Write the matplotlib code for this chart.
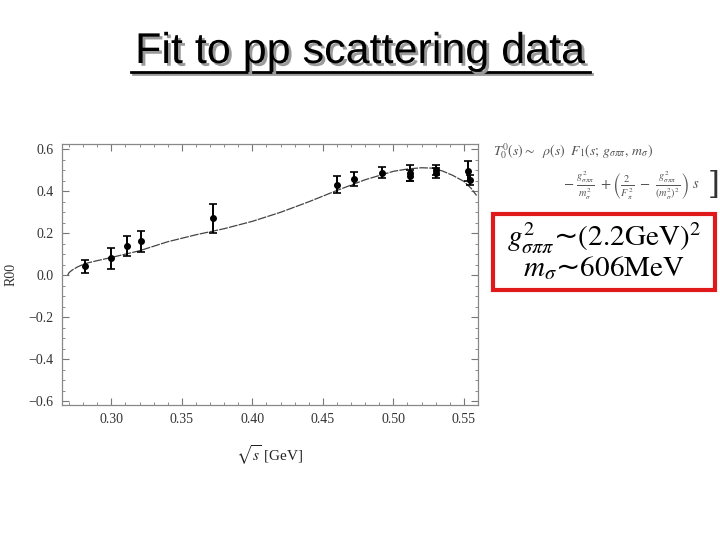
import numpy as np
import matplotlib
matplotlib.use("Agg")
import matplotlib.pyplot as plt
import matplotlib.patheffects as pe
from matplotlib.lines import Line2D
from matplotlib.patches import Rectangle
from matplotlib.ticker import MultipleLocator

plt.rcParams['mathtext.fontset'] = 'stix'

# data points (sqrt(s), R00, error)
x_data = [0.281, 0.300, 0.311, 0.321, 0.372, 0.460, 0.472, 0.492,
          0.512, 0.512, 0.530, 0.530, 0.553, 0.554]
y_data = [0.043, 0.082, 0.141, 0.163, 0.271, 0.432, 0.459, 0.489,
          0.489, 0.475, 0.502, 0.486, 0.495, 0.454]
y_err = [0.030, 0.050, 0.047, 0.050, 0.070, 0.040, 0.035, 0.026,
         0.038, 0.027, 0.025, 0.024, 0.048, 0.024]

# fit curve
x_fit = [0.2690, 0.2700, 0.2720, 0.2760, 0.2813, 0.2900, 0.3000, 0.3200,
         0.3400, 0.3600, 0.3800, 0.4000, 0.4200, 0.4400, 0.4600, 0.4800,
         0.5000, 0.5100, 0.5200, 0.5280, 0.5350, 0.5420, 0.5500, 0.5550,
         0.5590]
y_fit = [0.000, 0.013, 0.024, 0.040, 0.056, 0.070, 0.085, 0.117,
         0.160, 0.193, 0.222, 0.257, 0.300, 0.350, 0.404, 0.455,
         0.495, 0.506, 0.512, 0.510, 0.496, 0.476, 0.447, 0.415,
         0.380]

x_ticks = [0.30, 0.35, 0.40, 0.45, 0.50, 0.55]
y_ticks = [-0.6, -0.4, -0.2, 0.0, 0.2, 0.4, 0.6]

fig = plt.figure(figsize=(7.2, 5.4), dpi=100)
fig.patch.set_facecolor('white')

# title with shadow and underline
title = 'Fit to pp scattering data'
fig.text(0.5, 1 - 63 / 540, title, fontsize=31, family='Liberation Sans',
         color='black', ha='center', va='baseline',
         path_effects=[pe.SimplePatchShadow(offset=(2, -2), shadow_rgbFace='#9a9a9a',
                                            alpha=1.0), pe.Normal()])
ul_y = 1 - 72 / 540
fig.add_artist(Line2D([133 / 720, 592 / 720], [ul_y - 2 / 540, ul_y - 2 / 540],
                      color='#9a9a9a', lw=2))
fig.add_artist(Line2D([131 / 720, 590 / 720], [ul_y, ul_y], color='black', lw=2))

# main axes
ax = fig.add_axes([62 / 720, 1 - 405 / 540, 416 / 720, 261 / 540])
ax.plot(x_fit, y_fit, color='#444444', lw=0.9, dashes=(7, 1))
ax.errorbar(x_data, y_data, yerr=y_err, fmt='o', color='black', ms=4,
            capsize=3, elinewidth=1.4, capthick=1.2)

ax.set_xlim(0.265, 0.56)
ax.set_ylim(-0.617, 0.625)
ax.set_xticks(x_ticks)
ax.set_yticks(y_ticks)
ax.set_xticklabels(['%.2f' % v for v in x_ticks])
ax.set_yticklabels(['\u2212%.1f' % -v if v < 0 else '%.1f' % v for v in y_ticks])
ax.xaxis.set_minor_locator(MultipleLocator(0.01))
ax.yaxis.set_minor_locator(MultipleLocator(0.05))
ax.tick_params(which='both', direction='in', top=True, right=True, color='#777777')
ax.tick_params(which='major', length=5, width=0.8, labelsize=10, labelcolor='#333333', pad=6)
ax.tick_params(which='minor', length=2.5, width=0.6)
for lab in ax.get_xticklabels() + ax.get_yticklabels():
    lab.set_family('Liberation Serif')
for sp in ax.spines.values():
    sp.set_color('#888888')
    sp.set_linewidth(0.9)

ax.set_xlabel(r'$\sqrt{s}$ [GeV]', fontsize=11, family='Liberation Serif',
              color='#222222', labelpad=12)
ax.set_ylabel('R00', fontsize=10, family='Liberation Serif', color='#333333',
              labelpad=8)

# formula on the right
fig.text(493 / 720, 1 - 151 / 540,
         r'$T^{0}_{0}(s) \sim\ \ \rho(s)\ \ F_1(s;\, g_{\sigma\pi\pi},\, m_\sigma)$',
         fontsize=10, color='#555555', ha='left', va='center')
fig.text(563 / 720, 1 - 186 / 540,
         r'$-\ \frac{g^2_{\sigma\pi\pi}}{m^2_\sigma}\ +\left(\frac{2}{F^2_\pi}\ -\ \frac{g^2_{\sigma\pi\pi}}{(m^2_\sigma)^2}\right)\ s$',
         fontsize=10.5, color='#555555', ha='left', va='center')
fig.text(714 / 720, 1 - 186 / 540, ']', fontsize=22, color='#333333',
         ha='center', va='center', family='DejaVu Serif')

# red box with fitted parameters
fig.add_artist(Rectangle((493 / 720, 1 - 290 / 540), 222 / 720, 76 / 540,
                         transform=fig.transFigure, fill=False,
                         edgecolor='#e01a1a', lw=3))
fig.text(604 / 720, 1 - 238 / 540, r'$g^2_{\sigma\pi\pi}$~$(2.2\mathrm{GeV})^2$',
         fontsize=21, ha='center', va='center', color='black')
fig.text(604 / 720, 1 - 268 / 540, r'$m_\sigma$~$606\mathrm{MeV}$',
         fontsize=21, ha='center', va='center', color='black')

fig.savefig('out.png', dpi=100, facecolor='white')
